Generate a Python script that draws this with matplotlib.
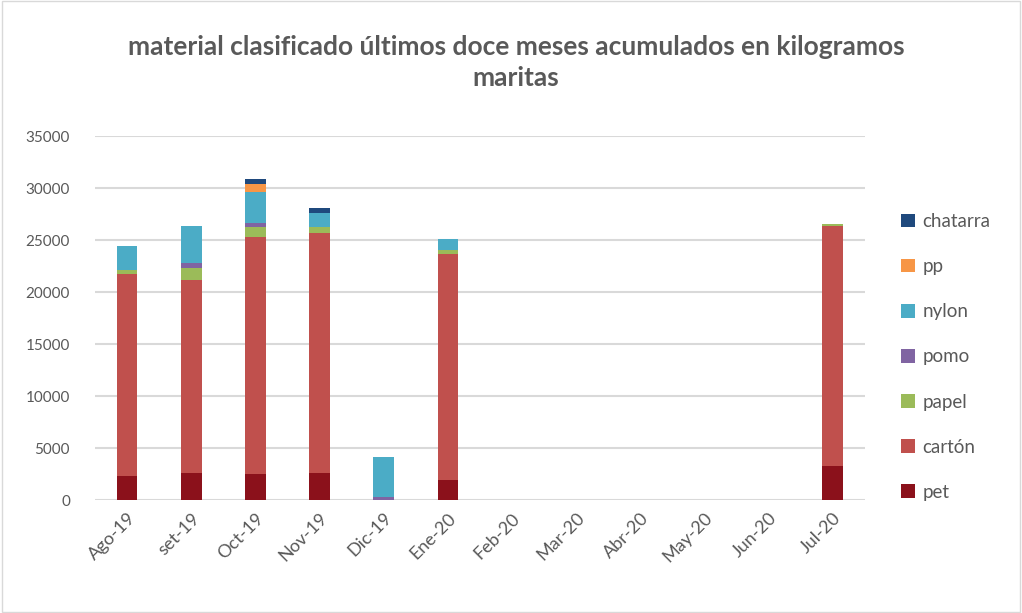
import numpy as np
import matplotlib.pyplot as plt
from matplotlib.patches import Rectangle

plt.rcParams['font.family'] = ['Lato', 'DejaVu Sans']

meses = ['Ago-19', 'set-19', 'Oct-19', 'Nov-19', 'Dic-19', 'Ene-20',
         'Feb-20', 'Mar-20', 'Abr-20', 'May-20', 'Jun-20', 'Jul-20']

pet = [2300, 2650, 2550, 2650, 0, 1900, 0, 0, 0, 0, 0, 3280]
carton = [19450, 18470, 22740, 23000, 0, 21790, 0, 0, 0, 0, 0, 23120]
papel = [380, 1240, 950, 600, 0, 350, 0, 0, 0, 0, 0, 190]
pomo = [0, 480, 380, 0, 320, 0, 0, 0, 0, 0, 0, 0]
nylon = [2260, 3540, 2960, 1340, 3790, 1020, 0, 0, 0, 0, 0, 0]
pp = [0, 0, 830, 0, 0, 0, 0, 0, 0, 0, 0, 0]
chatarra = [0, 0, 510, 540, 0, 0, 0, 0, 0, 0, 0, 0]

series = [
    ('pet', pet, '#8b111b'),
    ('cartón', carton, '#c0504d'),
    ('papel', papel, '#9bbb59'),
    ('pomo', pomo, '#8064a2'),
    ('nylon', nylon, '#4bacc6'),
    ('pp', pp, '#f79646'),
    ('chatarra', chatarra, '#1f497d'),
]

gris = '#595959'

fig = plt.figure(figsize=(10.22, 6.13), dpi=100)
ax = fig.add_axes([0.093, 0.184, 0.753, 0.594])

x = np.arange(len(meses))
bottom = np.zeros(len(meses))
for nombre, vals, color in series:
    vals = np.array(vals, dtype=float)
    ax.bar(x, vals, 0.32, bottom=bottom, color=color, label=nombre,
           linewidth=0, zorder=3)
    bottom += vals

ax.set_xlim(-0.5, len(meses) - 0.5)
ax.set_ylim(0, 35000)
ax.set_yticks(np.arange(0, 35001, 5000))
ax.yaxis.grid(True, color='#d9d9d9', linewidth=1.5, zorder=0)
for s in ax.spines.values():
    s.set_visible(False)
ax.tick_params(axis='both', length=0, colors=gris, labelsize=11)
ax.set_xticks(x)
ax.set_xticklabels(meses, rotation=45, ha='right', rotation_mode='anchor',
                   fontsize=13)
ax.tick_params(axis='x', pad=7)
ax.tick_params(axis='y', pad=18)

fig.text(0.505, 0.898,
         'material clasificado últimos doce meses acumulados en kilogramos\nmaritas',
         ha='center', va='center', fontsize=19, fontweight='bold', color=gris,
         linespacing=1.33)

handles, labels = ax.get_legend_handles_labels()
leg = fig.legend(handles[::-1], labels[::-1], loc='upper left',
                 bbox_to_anchor=(0.865, 0.68), frameon=False, fontsize=13.5,
                 labelspacing=1.5, handlelength=0.75, handleheight=0.75,
                 handletextpad=0.4, labelcolor=gris)

fig.patches.append(Rectangle((0.002, 0.002), 0.996, 0.996, transform=fig.transFigure,
                             fill=False, edgecolor='#d9d9d9', linewidth=1))

fig.savefig('out.png', dpi=100)
